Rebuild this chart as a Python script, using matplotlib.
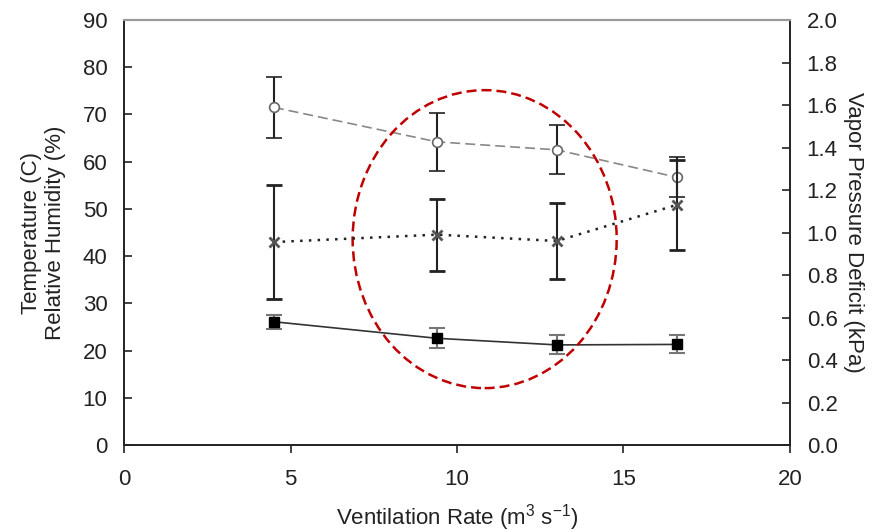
import matplotlib.pyplot as plt
from matplotlib.patches import Ellipse

plt.rcParams['font.family'] = ['Liberation Sans', 'DejaVu Sans']
plt.rcParams['mathtext.default'] = 'regular'

# ventilation rate (m3 s-1)
vent = [4.5, 9.4, 13.0, 16.6]
# temperature (C) and its error
temp = [26.1, 22.6, 21.2, 21.3]
temp_err = [1.5, 2.1, 2.0, 1.9]
# relative humidity (%) and its error
rh = [71.5, 64.2, 62.5, 56.7]
rh_err = [6.5, 6.1, 5.2, 4.2]
# vapor pressure deficit (kPa) and its error
vpd = [0.955, 0.99, 0.96, 1.13]
vpd_err = [0.27, 0.17, 0.18, 0.21]

fig = plt.figure(figsize=(8.76, 5.32), dpi=100)
ax = fig.add_axes([0.1416, 0.1635, 0.7602, 0.7989])
ax2 = ax.twinx()

# RH - dashed grey, open circles
ax.errorbar(vent, rh, yerr=rh_err, color='#888888', ls=(0, (6, 3)), lw=1.2,
            marker='o', ms=7, mfc='white', mec='#666666', mew=1.2,
            ecolor='#222222', elinewidth=1.5, capsize=6, capthick=1.5, zorder=3)
# temperature - solid, black squares
ax.errorbar(vent, temp, yerr=temp_err, color='#333333', ls='-', lw=1.2,
            marker='s', ms=7, mfc='black', mec='black',
            ecolor='#777777', elinewidth=1.5, capsize=6, capthick=1.5, zorder=3)
# VPD - dotted, x markers on right axis
ax2.errorbar(vent, vpd, yerr=vpd_err, color='#222222', ls=(0, (1, 2.5)), lw=1.8,
             marker='x', ms=7, mec='#555555', mew=2,
             ecolor='#222222', elinewidth=1.5, capsize=6, capthick=1.5, zorder=3)

ax.add_patch(Ellipse((10.83, 43.6), 7.93, 63.1, fill=False, ec='#c00000',
                     ls=(0, (4, 2)), lw=1.8, zorder=4))

ax.set_xlim(0, 20)
ax.set_ylim(0, 90)
ax2.set_ylim(0, 2.0)
ax.set_xticks([0, 5, 10, 15, 20])
ax.set_yticks(range(0, 91, 10))
ax2.set_yticks([i / 10 for i in range(0, 21, 2)])
ax2.set_yticklabels(['%.1f' % (i / 10) for i in range(0, 21, 2)])

fs = 16
ax.tick_params(axis='x', direction='out', length=6, width=1.2, labelsize=fs, colors='#222222', pad=11)
ax.tick_params(axis='y', direction='in', length=6, width=1.2, labelsize=fs, colors='#222222', pad=12)
ax2.tick_params(axis='y', direction='in', length=6, width=1.2, labelsize=fs, colors='#222222', pad=12)

for a in (ax, ax2):
    for side in ('left', 'right', 'bottom'):
        a.spines[side].set_color('#222222')
        a.spines[side].set_linewidth(1.2)
    a.spines['top'].set_color('#999999')
    a.spines['top'].set_linewidth(1.5)

ax.set_xlabel('Ventilation Rate (m$^3$ s$^{-1}$)', fontsize=fs, color='#222222', labelpad=9)
ax.set_ylabel('Temperature (C)\nRelative Humidity (%)', fontsize=fs, color='#222222', labelpad=12)
ax2.set_ylabel('Vapor Pressure Deficit (kPa)', fontsize=fs, color='#222222', rotation=270, labelpad=19)

fig.savefig('out.png', dpi=100)
